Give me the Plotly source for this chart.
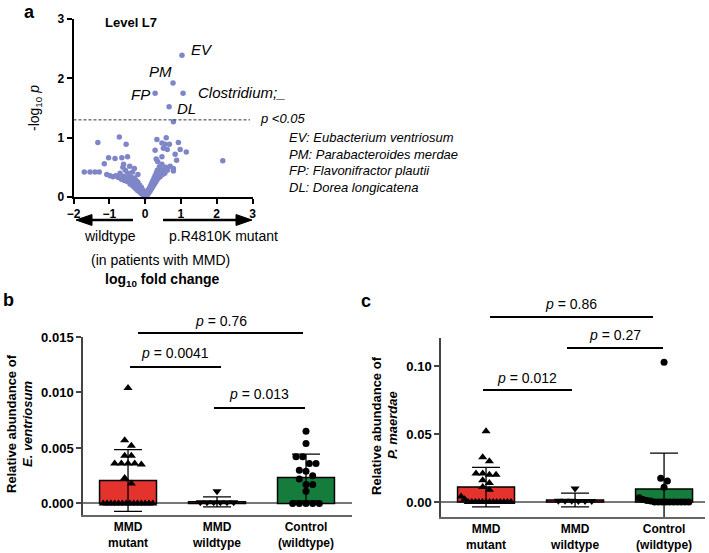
import plotly.graph_objects as go

W, H = 709, 553
def px(x): return x / W
def py(y): return 1 - y / H

# ---------------- Panel a: volcano data ----------------
fold_change = [
    -1.70, -1.54, -1.40, -1.28, -1.07, -1.14, -1.02, -0.84, -0.65, -0.49, -1.32, -0.72, -0.53,
    -0.98, -0.90, -0.82, -0.75, -0.70, -0.66, -0.62, -0.60, -0.58, -0.55, -0.52, -0.50, -0.48,
    -0.45, -0.43, -0.42, -0.40, -0.38, -0.36, -0.35, -0.33, -0.31, -0.30, -0.28, -0.26, -0.25,
    -0.23, -0.21, -0.20, -0.18, -0.16, -0.15, -0.13, -0.11, -0.10, -0.08, -0.06, -0.05, -0.03,
    -0.02, 0.00, 0.01, -0.30, -0.60, -0.20,
    0.02, 0.04, 0.05, 0.07, 0.08, 0.10, 0.11, 0.13, 0.14, 0.16, 0.17, 0.19, 0.20, 0.22, 0.23,
    0.25, 0.26, 0.28, 0.29, 0.31, 0.32, 0.34, 0.36, 0.38, 0.40, 0.42, 0.44, 0.47, 0.49, 0.50,
    0.55, 0.58, 0.62, 0.70, 0.79, 0.79, 0.35, 0.31, 0.47, 0.88, 0.84, 0.28, 0.51, 0.62, 0.98,
    1.15, 0.47, 0.56, 0.68, 0.93, 0.33, 0.59, 2.17, 0.79,
    1.03, 0.78, 1.06, 0.28, 0.67,
]
neg_log10_p = [
    0.42, 0.42, 0.42, 0.42, 0.38, 0.56, 0.66, 0.65, 0.66, 0.68, 0.92, 1.01, 0.89,
    0.36, 0.34, 0.36, 0.33, 0.40, 0.30, 0.50, 0.35, 0.28, 0.45, 0.32, 0.26, 0.40,
    0.30, 0.52, 0.22, 0.34, 0.28, 0.20, 0.42, 0.25, 0.17, 0.32, 0.22, 0.14, 0.28,
    0.18, 0.11, 0.25, 0.15, 0.09, 0.20, 0.12, 0.06, 0.16, 0.09, 0.04, 0.11, 0.02,
    0.06, 0.00, 0.02, 0.48, 0.55, 0.38,
    0.04, 0.07, 0.02, 0.10, 0.05, 0.13, 0.08, 0.16, 0.10, 0.20, 0.13, 0.24, 0.16, 0.28, 0.19,
    0.32, 0.22, 0.36, 0.25, 0.40, 0.28, 0.45, 0.31, 0.38, 0.51, 0.34, 0.42, 0.55, 0.38, 0.46,
    0.40, 0.50, 0.45, 0.52, 0.48, 0.44, 0.60, 0.64, 0.68, 0.62, 0.72, 0.79, 0.82, 0.80, 0.80,
    0.76, 0.91, 0.89, 0.89, 0.92, 0.97, 1.00, 0.61, 1.27,
    2.39, 1.92, 1.75, 1.75, 1.52,
]
threshold = 1.3
x_ticks_a = [-2, -1, 0, 1, 2, 3]
y_ticks_a = [0, 1, 2, 3]

# ---------------- Panels b, c: bar data ----------------
categories = ["MMD<br>mutant", "MMD<br>wildtype", "Control<br>(wildtype)"]

b_mean = [0.00207, 0.00015, 0.00234]
b_sd = [0.00279, 0.00045, 0.00211]
b_mutant = [0.0104, 0.0057, 0.0052, 0.0043, 0.0043, 0.0036, 0.0036, 0.0035, 0.0036, 0.0036,
            0.0023, 0.0018, 0, 0, 0, 0, 0, 0, 0, 0, 0, 0, 0, 0, 0, 0]
b_wild = [0.0011, 0.0001, 0.0001, 0.0001, 0.0001, 0.0001, 0.0001]
b_ctrl = [0.0065, 0.0054, 0.0042, 0.0042, 0.0036, 0.0036, 0.0030, 0.0029, 0.0025, 0.0022,
          0.0017, 0.0017, 0.0011, 0, 0, 0, 0, 0]
b_ticks = [0, 0.005, 0.010, 0.015]

c_mean = [0.0110, 0.0015, 0.0095]
c_sd = [0.0145, 0.0050, 0.0265]
c_mutant = [0.052, 0.033, 0.030, 0.021, 0.021, 0.020, 0.020, 0.016, 0.014, 0.011, 0.009,
            0.004, 0.002, 0, 0, 0, 0, 0, 0, 0, 0, 0, 0, 0, 0, 0]
c_wild = [0.010, 0.001, 0.0008, 0.001, 0.0008, 0.001, 0.0008]
c_ctrl = [0.1027, 0.0174, 0.0154, 0.0108, 0.0032, 0.0018, 0.0012, 0.0008,
          0, 0, 0, 0, 0, 0, 0, 0, 0, 0]
c_ticks = [0, 0.05, 0.10]

RED = "#e3332c"
GREEN = "#167c3c"
DOT = "#7f86c8"
FONT = "Liberation Sans, Arial, sans-serif"


def spread(values, thr, step_max=0.075, total=0.6):
    """Bee-swarm-like horizontal offsets for points with similar values."""
    order = sorted(range(len(values)), key=lambda i: -values[i])
    offs = [0.0] * len(values)
    groups, cur = [], []
    for i in order:
        if cur and abs(values[cur[0]] - values[i]) > thr:
            groups.append(cur)
            cur = []
        cur.append(i)
    if cur:
        groups.append(cur)
    for g in groups:
        n = len(g)
        step = min(step_max, total / n)
        for k, i in enumerate(g):
            offs[i] = (k - (n - 1) / 2) * step
    return offs


fig = go.Figure()

# panel a scatter
fig.add_trace(go.Scatter(x=fold_change, y=neg_log10_p, mode="markers",
                         marker=dict(color=DOT, size=5.5), xaxis="x", yaxis="y",
                         cliponaxis=False, hoverinfo="skip"))

# panels b and c
panels = [
    ("x2", "y2", b_mean, b_sd, [b_mutant, b_wild, b_ctrl], 0.0006),
    ("x3", "y3", c_mean, c_sd, [c_mutant, c_wild, c_ctrl], 0.005),
]
symbols = ["triangle-up", "triangle-down", "circle"]
sizes = [8, 8, 7]
for xa, ya, means, sds, groups, thr in panels:
    fig.add_trace(go.Bar(x=[0, 1, 2], y=means, width=0.64, xaxis=xa, yaxis=ya,
                         marker=dict(color=[RED, RED, GREEN], line=dict(color="black", width=1.5)),
                         error_y=dict(type="data", array=sds, color="black", thickness=1.3, width=14),
                         hoverinfo="skip"))
    for ci, vals in enumerate(groups):
        offs = spread(vals, thr)
        fig.add_trace(go.Scatter(x=[ci + o for o in offs], y=vals, mode="markers",
                                 marker=dict(color="black", size=sizes[ci], symbol=symbols[ci]),
                                 xaxis=xa, yaxis=ya, cliponaxis=False, hoverinfo="skip"))

axis_a = dict(showline=True, linecolor="black", linewidth=2, ticks="outside", ticklen=5,
              tickwidth=2, tickcolor="black", showgrid=False, zeroline=False, automargin=False,
              tickfont=dict(size=12, weight="bold", color="black"))
fig.update_layout(
    xaxis=dict(domain=[px(73.5), px(252.5)], range=[-2, 3], tickvals=x_ticks_a, anchor="y", **axis_a),
    yaxis=dict(domain=[py(197), py(19)], range=[0, 3], tickvals=y_ticks_a, anchor="x", **axis_a),
)

axis_bx = dict(showline=True, linecolor="#666", linewidth=1.5, ticks="", showgrid=False,
               zeroline=False, automargin=False,
               tickvals=[0, 1, 2], ticktext=categories,
               tickfont=dict(size=12, weight="bold", color="black"))
axis_by = dict(showline=True, linecolor="#444", linewidth=1.5, ticks="outside", ticklen=5,
               tickwidth=1.5, tickcolor="#444", showgrid=False, zeroline=True, automargin=False,
               zerolinecolor="#777", zerolinewidth=1.5,
               tickfont=dict(size=13, weight="bold", color="black"))
fig.update_layout(
    xaxis2=dict(domain=[px(83), px(352)], range=[-0.506, 2.517], anchor="y2", **axis_bx),
    yaxis2=dict(domain=[py(515), py(337)], range=[-0.00104, 0.015], tickvals=b_ticks,
                tickformat=".3f", anchor="x2", **axis_by),
    xaxis3=dict(domain=[px(441), px(705)], range=[-0.506, 2.46], anchor="y3", **axis_bx),
    yaxis3=dict(domain=[py(517), py(338)], range=[-0.011, 0.1206], tickvals=c_ticks,
                tickformat=".2f", anchor="x3", **axis_by),
)

shapes = []
# threshold dashed line
shapes.append(dict(type="line", xref="x", yref="y", x0=-2, x1=2.93, y0=threshold, y1=threshold,
                   line=dict(color="#333", width=1, dash="3px,2px")))
# arrows
shapes.append(dict(type="line", xref="paper", yref="paper", x0=px(88), x1=px(133), y0=py(220), y1=py(220),
                   line=dict(color="black", width=2.5)))
shapes.append(dict(type="path", xref="paper", yref="paper",
                   path=f"M{px(76)},{py(220)} L{px(92)},{py(214.5)} L{px(92)},{py(225.5)} Z",
                   fillcolor="black", line=dict(color="black", width=1)))
shapes.append(dict(type="line", xref="paper", yref="paper", x0=px(163), x1=px(240), y0=py(220), y1=py(220),
                   line=dict(color="black", width=2.5)))
shapes.append(dict(type="path", xref="paper", yref="paper",
                   path=f"M{px(252)},{py(220)} L{px(236)},{py(214.5)} L{px(236)},{py(225.5)} Z",
                   fillcolor="black", line=dict(color="black", width=1)))
# significance bars
sig_lines = [(138, 303, 333), (130, 221, 367), (214, 305, 408),
             (490, 653, 317), (567, 663, 348), (483, 572, 390)]
for x0, x1, y in sig_lines:
    shapes.append(dict(type="line", xref="paper", yref="paper", x0=px(x0), x1=px(x1), y0=py(y), y1=py(y),
                       line=dict(color="black", width=2)))
fig.update_layout(shapes=shapes)

ann = []
def A(text, x, y, size=13, xanchor="center", angle=0):
    ann.append(dict(text=text, x=px(x), y=py(y), xref="paper", yref="paper", showarrow=False,
                    xanchor=xanchor, yanchor="middle", textangle=angle,
                    font=dict(size=size, color="black", family=FONT)))

A("<b>a</b>", 29, 12, 18)
A("<b>b</b>", 8, 300, 18)
A("<b>c</b>", 366, 301, 18)
A("<b>Level L7</b>", 131, 23, 13)
A("-log<sub>10</sub> <i>p</i>", 35, 108, 14, angle=-90)
A("<i>EV</i>", 202, 50, 15)
A("<i>PM</i>", 160, 71, 15)
A("<i>FP</i>", 140, 94, 15)
A("<i>Clostridium;_</i>", 242, 93, 15)
A("<i>DL</i>", 187, 108, 15)
A("<i>p <0.05</i>", 283, 118, 13)
legend_lines = ["EV: Eubacterium ventriosum", "PM: Parabacteroides merdae",
                "FP: Flavonifractor plautii", "DL: Dorea longicatena"]
for i, t in enumerate(legend_lines):
    A(f"<i>{t}</i>", 287, 138 + i * 16.4, 13, xanchor="left")
A("wildtype", 110, 236, 14)
A("p.R4810K mutant", 223, 236, 14)
A("(in patients with MMD)", 160, 260, 14)
A("<b>log<sub>10</sub> fold change</b>", 162, 280, 14)

A("<b>Relative abundance of</b>", 11, 424, 13, angle=-90)
A("<b><i>E. ventriosum</i></b>", 27, 424, 13, angle=-90)
A("<b>Relative abundance of</b>", 376, 425, 13, angle=-90)
A("<b><i>P. maerdae</i></b>", 392, 425, 13, angle=-90)

A("<i>p</i> = 0.76", 221, 321, 14)
A("<i>p</i> = 0.0041", 175, 353, 14)
A("<i>p</i> = 0.013", 259, 394, 14)
A("<i>p</i> = 0.86", 571, 304, 14)
A("<i>p</i> = 0.27", 615, 335, 14)
A("<i>p</i> = 0.012", 527, 378, 14)
fig.update_layout(annotations=ann)

fig.update_layout(width=W, height=H, margin=dict(l=0, r=0, t=0, b=0), showlegend=False,
                  plot_bgcolor="white", paper_bgcolor="white", font=dict(family=FONT, color="black"),
                  bargap=0.3)

fig.write_html("out.html", config={"displayModeBar": False},
               post_script="document.body.style.margin='0';document.body.style.overflow='hidden';")
